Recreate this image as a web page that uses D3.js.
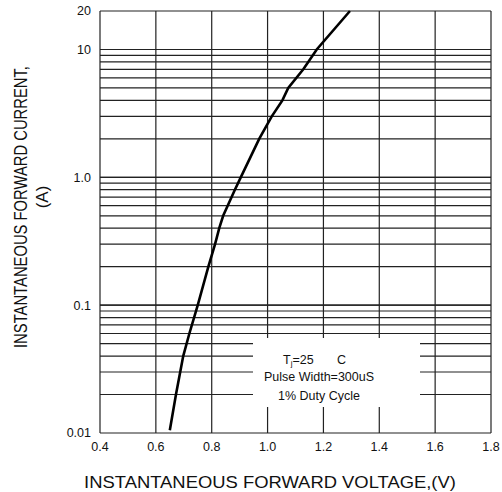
<!DOCTYPE html>
<html>
<head>
<meta charset="utf-8">
<script src="https://cdn.jsdelivr.net/npm/d3@7"></script>
<style>
  body { margin: 0; background: #fff; }
  svg { font-family: "Liberation Sans", Arial, sans-serif; display: block; }
</style>
</head>
<body>
<svg id="chart" width="502" height="492"></svg>
<script>
// forward voltage (V) vs current (A)
const volts = [0.65, 0.672, 0.698, 0.72, 0.75, 0.788, 0.812, 0.827, 0.841, 0.883, 0.904, 0.97, 1.015, 1.053, 1.074, 1.128, 1.176, 1.295];
const amps  = [0.0105, 0.02, 0.04, 0.06, 0.1, 0.2, 0.3, 0.4, 0.5, 0.8, 1.0, 2.0, 3.0, 4.0, 5.0, 7.0, 10, 20];

const xTicks = [0.4, 0.6, 0.8, 1.0, 1.2, 1.4, 1.6, 1.8];
const yTicks = [0.01, 0.1, 1, 10, 20];
const yTickText = ["0.01", "0.1", "1.0", "10", "20"];
const legendLines = ["Pulse Width=300uS", "1% Duty Cycle"];

const svg = d3.select("#chart");
const x = d3.scaleLinear().domain([0.4, 1.8]).range([100, 491]);
const y = d3.scaleLog().domain([0.01, 20]).range([433, 11]);

// minor log grid: 1..9 of each decade, plus 20
const hGrid = [];
[0.01, 0.1, 1].forEach((d) => { for (let k = 1; k <= 10; k++) hGrid.push(+(d * k).toPrecision(3)); });
hGrid.push(20);

const g = svg.append("g");
g.selectAll("line.h").data(hGrid).join("line")
  .attr("x1", x(0.4)).attr("x2", x(1.8))
  .attr("y1", (d) => y(d)).attr("y2", (d) => y(d))
  .attr("stroke", "#222").attr("stroke-width", 1.2);
g.selectAll("line.v").data(xTicks).join("line")
  .attr("x1", (d) => x(d)).attr("x2", (d) => x(d))
  .attr("y1", y(20)).attr("y2", y(0.01))
  .attr("stroke", "#222").attr("stroke-width", 1.2);

// legend box blanks out the grid
svg.append("rect").attr("x", 253).attr("y", 338).attr("width", 167).attr("height", 69).attr("fill", "#fff");
const lg = svg.append("g").attr("font-size", 12.5).attr("fill", "#111");
const t0 = lg.append("text").attr("x", 283).attr("y", 364);
t0.append("tspan").text("T");
t0.append("tspan").attr("font-size", 8).attr("dy", 2).text("j");
t0.append("tspan").attr("dy", -2).text("=25");
lg.append("text").attr("x", 337).attr("y", 364).text("C");
legendLines.forEach((s, i) => lg.append("text").attr("x", 319).attr("y", 381 + i * 19)
  .attr("text-anchor", "middle").text(s));

// curve
const line = d3.line().x((d) => x(d[0])).y((d) => y(d[1]));
svg.append("path").datum(volts.map((v, i) => [v, amps[i]]))
  .attr("d", line).attr("fill", "none").attr("stroke", "#000").attr("stroke-width", 2.6);

// tick labels
svg.append("g").attr("font-size", 12.5).attr("fill", "#111").attr("text-anchor", "middle")
  .selectAll("text").data(xTicks).join("text")
  .attr("x", (d) => x(d)).attr("y", 451).text((d) => d.toFixed(1));
svg.append("g").attr("font-size", 12.5).attr("fill", "#111").attr("text-anchor", "end")
  .selectAll("text").data(yTicks).join("text")
  .attr("x", 91).attr("y", (d) => y(d)).attr("dy", "0.35em")
  .text((d, i) => yTickText[i]);

// axis titles (the originals are stretched/squeezed along the text)
svg.append("text").attr("transform", "translate(270,488) scale(1.13,1)").attr("text-anchor", "middle")
  .attr("font-size", 16.3).attr("fill", "#111")
  .text("INSTANTANEOUS FORWARD VOLTAGE,(V)");
svg.append("text").attr("transform", "translate(27,207) rotate(-90) scale(0.795,1)").attr("text-anchor", "middle")
  .attr("font-size", 18.6).attr("fill", "#111")
  .text("INSTANTANEOUS FORWARD CURRENT,");
svg.append("text").attr("transform", "translate(48,197) rotate(-90)").attr("text-anchor", "middle")
  .attr("font-size", 17).attr("fill", "#111").text("(A)");
</script>
</body>
</html>
